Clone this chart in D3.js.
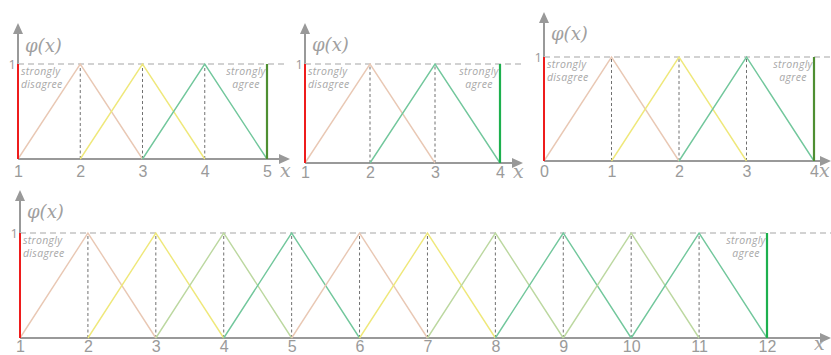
<!DOCTYPE html>
<html lang="en">
  <head>
    <meta charset="UTF-8" />
    <title>Fuzzy Likert scales</title>
    <style>
      body { margin: 0; background: #fff; }
      svg { display: block; font-family: 'Open Sans', sans-serif; }
      .tick text { fill: #9a9a9a; font-size: 16px; }
      .note { fill: #a8a8a8; font-size: 10.5px; font-style: italic; letter-spacing: 0.3px; }
      .math { fill: #a0a0a0; font-family: 'DejaVu Serif', serif; font-style: italic; }
    </style>
  </head>
  <body>
    <svg width="831" height="355"></svg>
    <script src="https://d3js.org/d3.v7.min.js"></script>
    <script>
      // 5-point scale
      const ticks5 = [1, 2, 3, 4, 5];
      const peaks5 = [2, 3, 4];
      // 4-point scale, starting at 1
      const ticks4 = [1, 2, 3, 4];
      const peaks4 = [2, 3];
      // 4-point scale, starting at 0
      const ticks4z = [0, 1, 2, 3, 4];
      const peaks4z = [1, 2, 3];
      // 12-point scale
      const ticks12 = [1, 2, 3, 4, 5, 6, 7, 8, 9, 10, 11, 12];
      const peaks12 = [2, 3, 4, 5, 6, 7, 8, 9, 10, 11];

      const peach = '#e9c8b4', yellow = '#efe87a', olive = '#bcd8a0', teal = '#72c79c';

      const panels = [
        { ticks: ticks5, peaks: peaks5, colors: [peach, yellow, teal], agree: '#4f8f32',
          x0: 18, x1: 267, base: 159, top: 64, axTop: 23, xEnd: 290, dashEnd: 286, pad: 7, phiY: 52, labX: 280, labY: 177 },
        { ticks: ticks4, peaks: peaks4, colors: [peach, teal], agree: '#1db04e',
          x0: 305, x1: 500, base: 163, top: 64, axTop: 23, xEnd: 523, dashEnd: 522, pad: 4, phiY: 51, labX: 513, labY: 178 },
        { ticks: ticks4z, peaks: peaks4z, colors: [peach, yellow, teal], agree: '#4f8f32',
          x0: 544, x1: 814, base: 161, top: 57, axTop: 12, xEnd: 831, dashEnd: 831, pad: 5, phiY: 40, labX: 819, labY: 177 },
        { ticks: ticks12, peaks: peaks12,
          colors: [peach, yellow, olive, teal, peach, yellow, olive, teal, olive, teal], agree: '#1db04e',
          x0: 20, x1: 767, base: 338, top: 233, axTop: 190, xEnd: 831, dashEnd: 831, pad: 3, phiY: 218, labX: 814, labY: 350 }
      ];

      const svg = d3.select('svg');
      const axisColor = '#999999';

      panels.forEach((p) => {
        const g = svg.append('g');
        const x = d3.scaleLinear()
          .domain(d3.extent(p.ticks))
          .range([p.x0, p.x1]);
        const y = d3.scaleLinear().domain([0, 1]).range([p.base, p.top]);
        const lo = x.domain()[0], hi = x.domain()[1];

        // axes with arrows
        g.append('line')
          .attr('x1', x(lo)).attr('x2', p.xEnd - 8)
          .attr('y1', y(0)).attr('y2', y(0))
          .attr('stroke', axisColor).attr('stroke-width', 2);
        g.append('path')
          .attr('d', `M${p.xEnd},${y(0)} L${p.xEnd - 11},${y(0) - 5} L${p.xEnd - 11},${y(0) + 5} Z`)
          .attr('fill', axisColor);
        g.append('line')
          .attr('x1', x(lo)).attr('x2', x(lo))
          .attr('y1', y(0)).attr('y2', p.axTop + 8)
          .attr('stroke', axisColor).attr('stroke-width', 2);
        g.append('path')
          .attr('d', `M${x(lo)},${p.axTop} L${x(lo) - 5},${p.axTop + 11} L${x(lo) + 5},${p.axTop + 11} Z`)
          .attr('fill', axisColor);

        // dashed line at membership 1
        g.append('line')
          .attr('x1', x(lo)).attr('x2', p.dashEnd)
          .attr('y1', y(1)).attr('y2', y(1))
          .attr('stroke', '#c4c4c4').attr('stroke-width', 1.5)
          .attr('stroke-dasharray', '6,4');

        // dashed verticals at the peaks
        g.selectAll('.peak')
          .data(p.peaks)
          .enter()
          .append('line')
          .attr('x1', (d) => x(d)).attr('x2', (d) => x(d))
          .attr('y1', y(0)).attr('y2', y(1))
          .attr('stroke', '#707070').attr('stroke-width', 1)
          .attr('stroke-dasharray', '3,2.5');

        // triangular membership functions
        const line = d3.line().x((d) => x(d[0])).y((d) => y(d[1]));
        g.selectAll('.tri')
          .data(p.peaks)
          .enter()
          .append('path')
          .attr('d', (d) => line([[d - 1, 0], [d, 1], [d + 1, 0]]))
          .attr('fill', 'none')
          .attr('stroke', (d, i) => p.colors[i])
          .attr('stroke-width', 1.4);

        // crisp extremes
        g.append('line')
          .attr('x1', x(lo)).attr('x2', x(lo))
          .attr('y1', y(0)).attr('y2', y(1))
          .attr('stroke', '#ee1c1c').attr('stroke-width', 2);
        g.append('line')
          .attr('x1', x(hi)).attr('x2', x(hi))
          .attr('y1', y(0)).attr('y2', y(1))
          .attr('stroke', p.agree).attr('stroke-width', 2.2);

        // tick labels
        const ax = g.append('g')
          .attr('transform', `translate(0,${y(0)})`)
          .call(d3.axisBottom(x).tickValues(p.ticks).tickFormat(d3.format('d')).tickSize(0).tickPadding(p.pad));
        ax.select('.domain').remove();
        ax.selectAll('text').attr('font-family', null);

        // "1" on the y axis
        g.append('text')
          .attr('x', x(lo) - 2).attr('y', y(1) + 5)
          .attr('text-anchor', 'end')
          .attr('fill', '#9a9a9a').attr('font-size', 13)
          .text('1');

        // axis titles
        g.append('text').attr('class', 'math')
          .attr('x', x(lo) + 7).attr('y', p.phiY)
          .attr('font-size', 18)
          .text('φ(x)');
        g.append('text').attr('class', 'math')
          .attr('x', p.labX).attr('y', p.labY)
          .attr('font-size', 19)
          .text('x');

        // notes
        g.append('text').attr('class', 'note')
          .attr('x', x(lo) + 3).attr('y', y(1) + 11)
          .text('strongly');
        g.append('text').attr('class', 'note')
          .attr('x', x(lo) + 3).attr('y', y(1) + 24)
          .text('disagree');
        g.append('text').attr('class', 'note')
          .attr('x', x(hi) - 21).attr('y', y(1) + 11)
          .attr('text-anchor', 'middle')
          .text('strongly');
        g.append('text').attr('class', 'note')
          .attr('x', x(hi) - 21).attr('y', y(1) + 24)
          .attr('text-anchor', 'middle')
          .text('agree');
      });
    </script>
  </body>
</html>
